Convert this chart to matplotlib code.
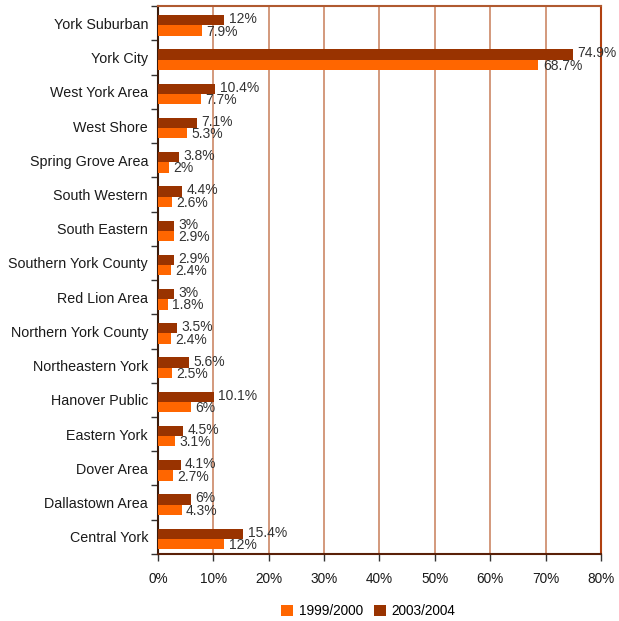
import numpy as np
import matplotlib
matplotlib.use('Agg')
import matplotlib.pyplot as plt
import matplotlib.ticker as ticker

plt.rcParams['font.family'] = ['Liberation Sans', 'DejaVu Sans']

# 数据（从上到下）
districts = ['York Suburban', 'York City', 'West York Area', 'West Shore',
             'Spring Grove Area', 'South Western', 'South Eastern',
             'Southern York County', 'Red Lion Area', 'Northern York County',
             'Northeastern York', 'Hanover Public', 'Eastern York', 'Dover Area',
             'Dallastown Area', 'Central York']
y2003 = [12, 74.9, 10.4, 7.1, 3.8, 4.4, 3, 2.9, 3, 3.5, 5.6, 10.1, 4.5, 4.1, 6, 15.4]
y1999 = [7.9, 68.7, 7.7, 5.3, 2, 2.6, 2.9, 2.4, 1.8, 2.4, 2.5, 6, 3.1, 2.7, 4.3, 12]

c_dark = '#993300'
c_orange = '#FF6600'
c_grid = '#CC8866'

fig = plt.figure(figsize=(6.19, 6.21), dpi=100)
ax = fig.add_axes([0.255, 0.108, 0.716, 0.882])

pos = np.arange(len(districts))
h = 0.3
off = 0.06
ax.barh(pos + off - h / 2, y2003, height=h, color=c_dark, label='2003/2004', zorder=3)
ax.barh(pos + off + h / 2, y1999, height=h, color=c_orange, label='1999/2000', zorder=3)

def fmt(v):
    return f"{v:g}%"

# 数值标签（与原图一样紧贴条形末端）
for p, v in zip(pos, y2003):
    ax.text(v + 0.8, p + off - h / 2 - 0.03, fmt(v), va='center', ha='left',
            fontsize=10, color='#333333', zorder=4)
for p, v in zip(pos, y1999):
    ax.text(v + 0.8, p + off + h / 2 + 0.03, fmt(v), va='center', ha='left',
            fontsize=10, color='#333333', zorder=4)

ax.set_xlim(0, 80)
ax.set_ylim(len(districts) - 0.5, -0.5)
ax.xaxis.set_major_locator(ticker.MultipleLocator(10))
ax.xaxis.set_major_formatter(ticker.FuncFormatter(lambda x, _: f"{x:.0f}%"))
ax.set_yticks(pos)
ax.set_yticklabels(districts)
ax.set_yticks(np.arange(len(districts) + 1) - 0.5, minor=True)
ax.tick_params(axis='y', which='major', length=0, pad=7, labelsize=10.3, labelcolor='#1a1a1a')
ax.tick_params(axis='y', which='minor', length=5, width=1, color='#333333')
ax.tick_params(axis='x', which='major', length=5, width=1, color='#333333', pad=8,
               labelsize=9.8, labelcolor='#1a1a1a')

ax.grid(axis='x', color=c_grid, linewidth=1.2, zorder=1)
ax.spines['top'].set_color('#B05A30')
ax.spines['top'].set_linewidth(1.5)
ax.spines['right'].set_color('#B04010')
ax.spines['right'].set_linewidth(1.5)
ax.spines['left'].set_color('#3A1A0A')
ax.spines['left'].set_linewidth(1.5)
ax.spines['bottom'].set_color('#5A2008')
ax.spines['bottom'].set_linewidth(1.5)

handles, labels = ax.get_legend_handles_labels()
fig.legend(handles[::-1], labels[::-1], loc='center', bbox_to_anchor=(0.595, 0.016),
           ncol=2, frameon=False, fontsize=9.8, handlelength=0.9, handleheight=0.9,
           handletextpad=0.4, columnspacing=0.8)

plt.savefig('out.png', dpi=100)
